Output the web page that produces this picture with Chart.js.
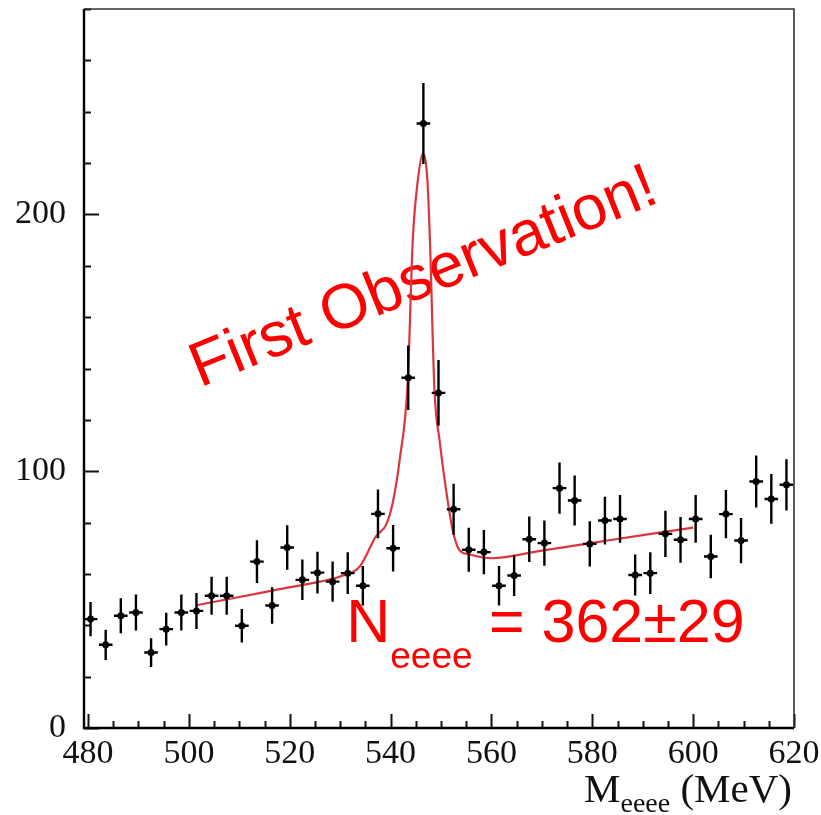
<!DOCTYPE html>
<html>
<head>
<meta charset="utf-8">
<script src="https://cdn.jsdelivr.net/npm/chart.js@4/dist/chart.umd.min.js"></script>
<style>
  html, body { margin: 0; padding: 0; background: #fff; }
  #wrap { width: 821px; height: 815px; }
</style>
</head>
<body>
<div id="wrap"><canvas id="massChart" width="821" height="815"></canvas></div>
<script>
(function massPlot () {
    'use strict';

    // measured spectrum, 3 MeV bins
    var binCenters = [
        480.5, 483.5, 486.5, 489.5, 492.5, 495.5, 498.5, 501.5, 504.5, 507.5,
        510.5, 513.5, 516.5, 519.5, 522.5, 525.5, 528.5, 531.5, 534.5, 537.5,
        540.5, 543.5, 546.5, 549.5, 552.5, 555.5, 558.5, 561.5, 564.5, 567.5,
        570.5, 573.5, 576.5, 579.5, 582.5, 585.5, 588.5, 591.5, 594.5, 597.5,
        600.5, 603.5, 606.5, 609.5, 612.5, 615.5, 618.5
    ];
    var counts = [
        42.4, 32.4, 43.7, 45.0, 29.4, 38.5, 45.0, 45.6, 51.5, 51.5,
        39.8, 64.8, 47.7, 70.3, 57.7, 60.5, 57.0, 60.3, 55.4, 83.4,
        70.0, 136.4, 235.4, 130.5, 85.2, 69.4, 68.5, 55.4, 59.4, 73.5,
        72.0, 93.4, 88.6, 71.7, 80.8, 81.4, 59.6, 60.3, 75.6, 73.3,
        81.4, 66.8, 83.3, 73.0, 96.0, 89.2, 94.7
    ];
    var countErrors = [
        6.7, 5.9, 6.8, 7.0, 5.6, 6.4, 7.0, 7.0, 7.4, 7.4,
        6.5, 8.3, 7.1, 8.7, 7.9, 8.1, 7.8, 8.1, 7.7, 9.5,
        9.1, 12.6, 15.8, 12.8, 9.9, 8.6, 8.6, 7.7, 8.0, 8.9,
        8.8, 10.0, 9.7, 8.8, 9.3, 9.3, 8.0, 8.1, 9.0, 8.9,
        9.3, 8.5, 9.4, 8.8, 10.1, 9.7, 10.0
    ];
    var binHalfWidth = 1.35;

    // fitted curve (signal + background)
    var fitMass = [
        501.5, 510, 518, 526, 530, 533.9, 537.1, 539.1, 540.4, 541.8,
        543.4, 544.4, 545.4, 546.4, 547.3, 547.8, 548.7, 549.7, 551.0, 552.3,
        553.6, 555.6, 560, 570, 580, 590, 600
    ];
    var fitCounts = [
        47.8, 51.0, 54.1, 57.0, 59.0, 62.9, 74.6, 79.1, 87.5, 104.4,
        135.0, 190.0, 213.3, 223.7, 213.3, 190.0, 131.6, 112.2, 92.7, 77.2,
        69.4, 67.6, 66.1, 69.1, 72.1, 75.1, 78.0
    ];

    var xTickValues = [480, 500, 520, 540, 560, 580, 600, 620];
    var yTickValues = [0, 100, 200];

    var SERIF = '"Liberation Serif", "Times New Roman", serif';
    var SANS = '"Liberation Sans", Arial, sans-serif';

    var points = binCenters.map(function (m, i) {
        return { x: m, y: counts[i] };
    });
    var fitPoints = fitMass.map(function (m, i) {
        return { x: m, y: fitCounts[i] };
    });

    function drawTicks (chart) {
        var ctx = chart.ctx;
        var area = chart.chartArea;
        var xs = chart.scales.x;
        var ys = chart.scales.y;
        var v, px;

        ctx.save();
        ctx.strokeStyle = '#111';
        ctx.lineWidth = 2;
        ctx.beginPath();
        for (v = 480; v <= 620; v += 5) {
            px = Math.round(xs.getPixelForValue(v)) + 0.5;
            ctx.moveTo(px, area.bottom);
            ctx.lineTo(px, area.bottom - (v % 20 === 0 ? 14 : 7));
        }
        for (v = 0; v <= 280; v += 20) {
            px = Math.round(ys.getPixelForValue(v)) + 0.5;
            ctx.moveTo(area.left, px);
            ctx.lineTo(area.left + (v % 100 === 0 ? 15 : 7), px);
        }
        ctx.stroke();

        // frame
        ctx.strokeStyle = '#333';
        ctx.lineWidth = 1.6;
        ctx.beginPath();
        ctx.moveTo(area.left, area.top);
        ctx.lineTo(area.right, area.top);
        ctx.lineTo(area.right, area.bottom);
        ctx.stroke();

        ctx.strokeStyle = '#000';
        ctx.lineWidth = 2.4;
        ctx.beginPath();
        ctx.moveTo(area.left, area.top);
        ctx.lineTo(area.left, area.bottom);
        ctx.lineTo(area.right, area.bottom);
        ctx.stroke();
        ctx.restore();
    }

    function drawErrorBars (chart) {
        var ctx = chart.ctx;
        var xs = chart.scales.x;
        var ys = chart.scales.y;

        ctx.save();
        ctx.strokeStyle = '#000';
        ctx.lineWidth = 2.4;
        ctx.beginPath();
        binCenters.forEach(function (m, i) {
            var cx = xs.getPixelForValue(m);
            var cy = ys.getPixelForValue(counts[i]);

            ctx.moveTo(cx, ys.getPixelForValue(counts[i] - countErrors[i]));
            ctx.lineTo(cx, ys.getPixelForValue(counts[i] + countErrors[i]));
            ctx.moveTo(xs.getPixelForValue(m - binHalfWidth), cy);
            ctx.lineTo(xs.getPixelForValue(m + binHalfWidth), cy);
        });
        ctx.stroke();
        ctx.restore();
    }

    function drawLabels (chart) {
        var ctx = chart.ctx;
        var xs = chart.scales.x;
        var ys = chart.scales.y;
        var x, y;

        ctx.save();
        ctx.fillStyle = '#ff0000';
        ctx.textBaseline = 'alphabetic';
        ctx.textAlign = 'left';

        // slanted headline
        ctx.save();
        ctx.translate(xs.getPixelForValue(502.2), ys.getPixelForValue(132.5));
        ctx.rotate(-22 * Math.PI / 180);
        ctx.font = '63px ' + SANS;
        ctx.fillText('First Observation!', 0, 0);
        ctx.restore();

        // N_eeee = 362±29
        y = ys.getPixelForValue(33.3);
        x = xs.getPixelForValue(531.2);
        ctx.font = '61px ' + SANS;
        ctx.fillText('N', x, y);
        x += ctx.measureText('N').width;
        ctx.font = '37px ' + SANS;
        ctx.fillText('eeee', x, y + 26);
        ctx.font = '61px ' + SANS;
        ctx.fillText('= 362\u00b129', xs.getPixelForValue(559.5), y);
        ctx.restore();
    }

    function drawAxisTitle (chart) {
        var ctx = chart.ctx;
        var right = 792;
        var base = 802;
        var wM, wSub, wRest, x;

        ctx.save();
        ctx.fillStyle = '#111';
        ctx.textBaseline = 'alphabetic';
        ctx.textAlign = 'left';
        ctx.font = '41px ' + SERIF;
        wM = ctx.measureText('M').width;
        wRest = ctx.measureText(' (MeV)').width;
        ctx.font = '28px ' + SERIF;
        wSub = ctx.measureText('eeee').width;

        x = right - wRest - wSub - wM;
        ctx.font = '41px ' + SERIF;
        ctx.fillText('M', x, base);
        ctx.font = '28px ' + SERIF;
        ctx.fillText('eeee', x + wM, base + 10);
        ctx.font = '41px ' + SERIF;
        ctx.fillText(' (MeV)', x + wM + wSub, base);
        ctx.restore();
    }

    var decorations = {
        id: 'decorations',
        beforeDatasetsDraw: function (chart) {
            drawLabels(chart);
        },
        afterDatasetsDraw: function (chart) {
            drawErrorBars(chart);
            drawTicks(chart);
        },
        afterDraw: function (chart) {
            drawAxisTitle(chart);
        }
    };

    function noOverflow (scale) {
        scale.paddingTop = 0;
        scale.paddingBottom = 0;
        scale.paddingLeft = 0;
        scale.paddingRight = 0;
    }

    var ctx = document.getElementById('massChart').getContext('2d');

    new Chart(ctx, {
        type: 'scatter',
        data: {
            datasets: [{
                label: 'data',
                data: points,
                order: 0,
                pointRadius: 3.5,
                pointHoverRadius: 3.5,
                pointBackgroundColor: '#000',
                pointBorderWidth: 0
            }, {
                label: 'fit',
                data: fitPoints,
                order: 1,
                showLine: true,
                pointRadius: 0,
                borderColor: '#dc3540',
                borderWidth: 2.2,
                cubicInterpolationMode: 'monotone'
            }]
        },
        options: {
            responsive: false,
            animation: false,
            devicePixelRatio: 1,
            layout: {
                padding: { left: 0, top: 9, right: 27, bottom: 0 }
            },
            plugins: {
                legend: { display: false },
                tooltip: { enabled: false }
            },
            scales: {
                x: {
                    type: 'linear',
                    min: 479.2,
                    max: 620,
                    grid: { display: false, drawTicks: false },
                    border: { display: false },
                    afterBuildTicks: function (scale) {
                        scale.ticks = xTickValues.map(function (v) { return { value: v }; });
                    },
                    afterFit: function (scale) {
                        scale.height = 87;
                        noOverflow(scale);
                    },
                    ticks: {
                        autoSkip: false,
                        maxRotation: 0,
                        padding: 6,
                        color: '#111',
                        font: { family: SERIF, size: 34 }
                    }
                },
                y: {
                    type: 'linear',
                    min: 0,
                    max: 280,
                    grid: { display: false, drawTicks: false },
                    border: { display: false },
                    afterBuildTicks: function (scale) {
                        scale.ticks = yTickValues.map(function (v) { return { value: v }; });
                    },
                    afterFit: function (scale) {
                        scale.width = 84;
                        noOverflow(scale);
                    },
                    ticks: {
                        padding: 18,
                        color: '#111',
                        font: { family: SERIF, size: 34 }
                    }
                }
            }
        },
        plugins: [decorations]
    });
}());
</script>
</body>
</html>
